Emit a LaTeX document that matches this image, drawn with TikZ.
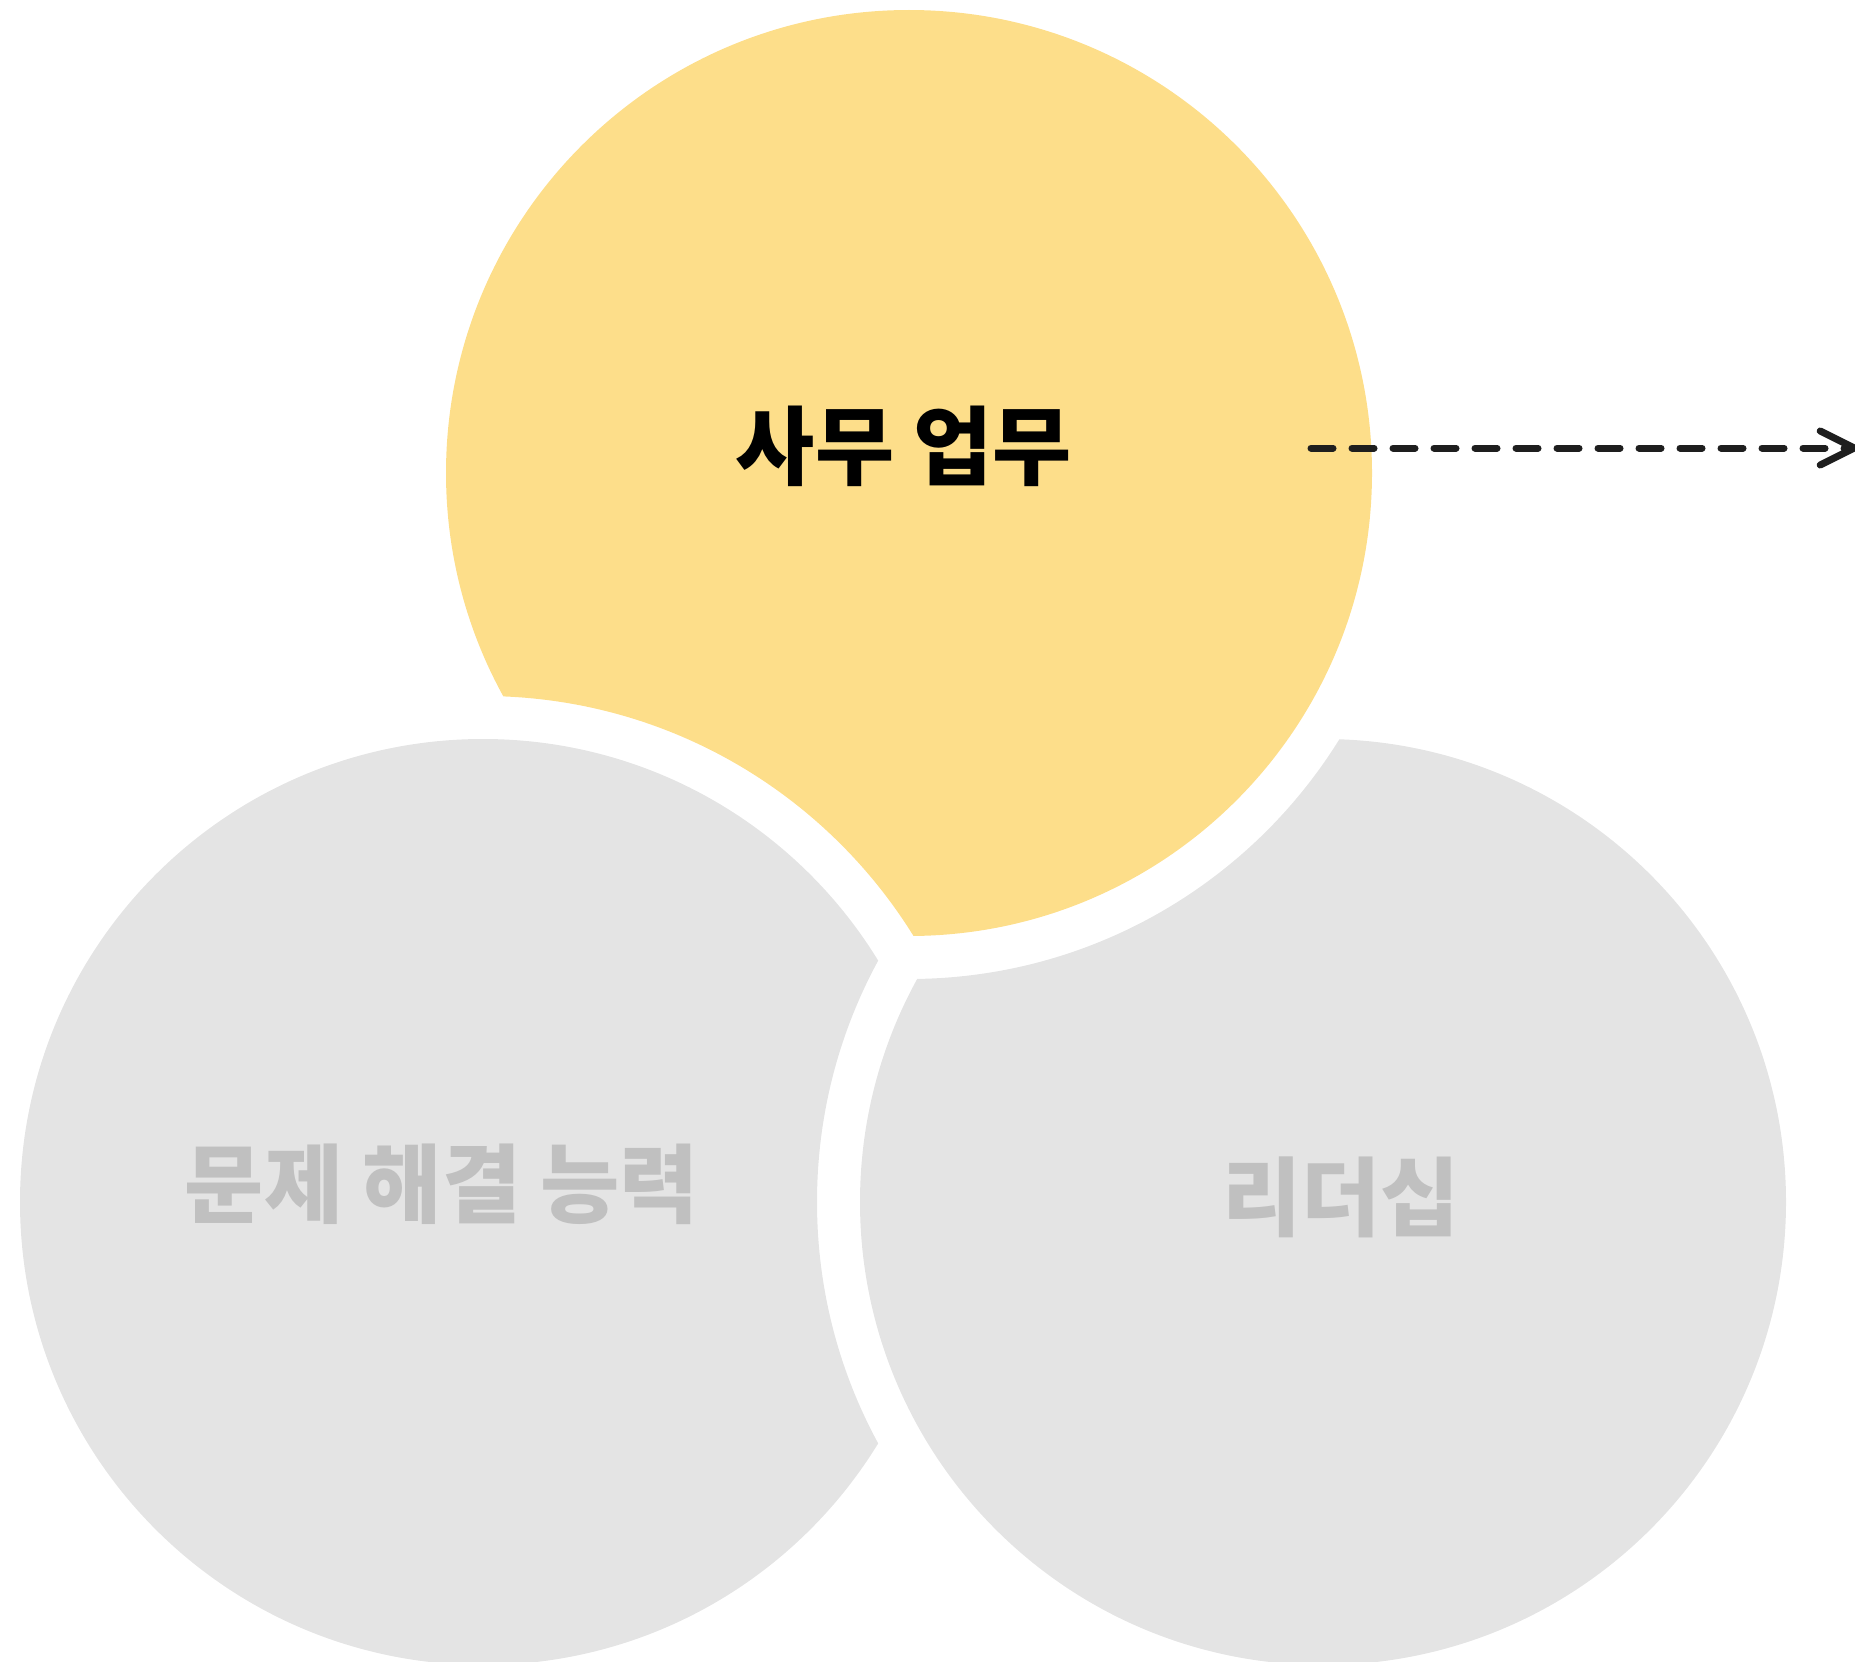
\documentclass[tikz,border=0pt]{standalone}
\usepackage{fontspec}
\usepackage{tikz}
\usetikzlibrary{arrows.meta}
\newfontfamily\kofont{Noto Sans CJK KR}
\definecolor{officeyellow}{RGB}{253,222,138}
\definecolor{circlegray}{RGB}{228,228,228}
\definecolor{labelgray}{RGB}{192,192,192}
\definecolor{inkblack}{RGB}{30,30,30}

\begin{document}
\begin{tikzpicture}[x=1pt,y=-1pt,
	label text/.style={font=\kofont\bfseries\fontsize{86}{90}\selectfont, inner sep=0pt}]
	\useasboundingbox (0,0) rectangle (1855,1662);
	%circle centres
	\coordinate (top) at (909,473);
	\coordinate (bl) at (483,1202);
	\coordinate (br) at (1323,1202);
	%each circle is cut by a white ring round the next one
	\foreach \c/\n/\col in {top/bl/officeyellow, bl/br/circlegray, br/top/circlegray}{
		\begin{scope}
			\clip (-20,-20) -- (-20,1690) -- (1880,1690) -- (1880,-20) -- cycle
				(\n) ++(506,0) arc[start angle=0, end angle=-360, radius=506pt];
			\fill[\col] (\c) circle[radius=463pt];
		\end{scope}
	}
	%labels
	\node[label text, text=black] (office) at (904,446) {사무 업무};
	\node[label text, text=labelgray] (problem) at (442,1184) {문제 해결 능력};
	\node[label text, text=labelgray] (leader) at (1341,1197) {리더십};
	%dashed arrow
	\coordinate (arrow start) at (1311,448);
	\coordinate (arrow end) at (1862,448);
	\draw[inkblack, line width=7pt, line cap=round, dash pattern=on 22pt off 19pt,
		-{Straight Barb[length=34pt, width=34pt, line cap=round]}] (arrow start) -- (arrow end);
\end{tikzpicture}
\end{document}
